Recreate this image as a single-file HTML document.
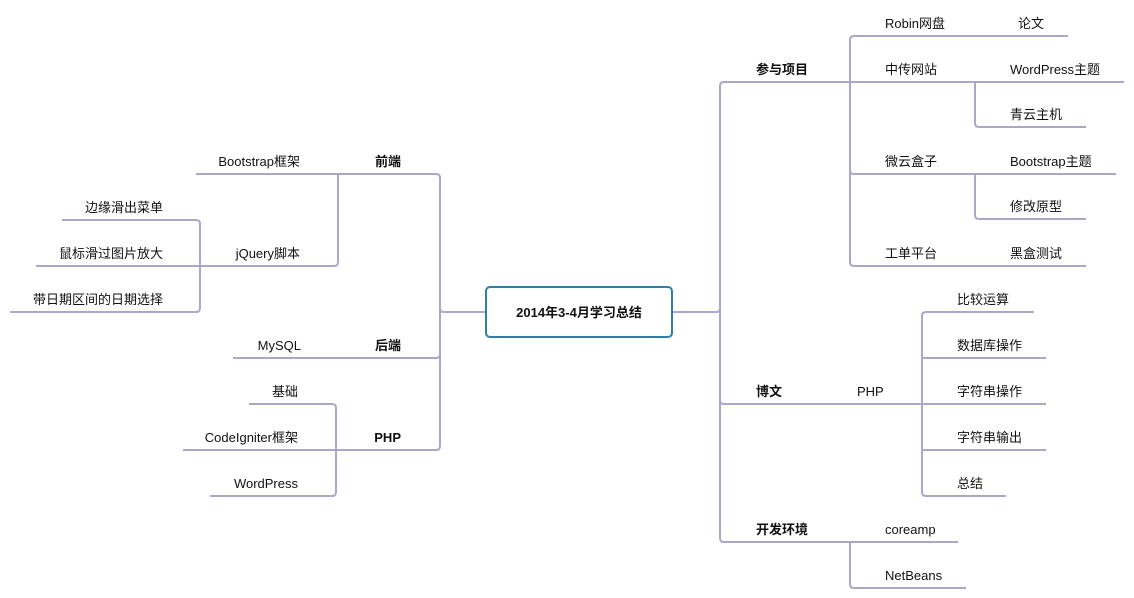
<!DOCTYPE html>
<html><head><meta charset="utf-8"><style>
html,body{margin:0;padding:0;background:#fff;width:1134px;height:598px;overflow:hidden}
text{font-family:"Liberation Sans","Noto Sans CJK SC",sans-serif;font-size:13px;fill:#111}
.b{font-weight:bold}
</style></head><body>
<svg width="1134" height="598" xmlns="http://www.w3.org/2000/svg">
<g fill="none" stroke="#aaa7c9" stroke-width="2" stroke-linejoin="round">
<!-- right -->
<path d="M672 312H716Q720 312 720 308V86Q720 82 724 82H1124"/>
<path d="M720 308V538Q720 542 724 542H958"/>
<path d="M720 400Q720 404 724 404H922"/>
<path d="M850 82V40Q850 36 854 36H1068"/>
<path d="M850 82V262Q850 266 854 266H1086"/>
<path d="M850 170Q850 174 854 174H1116"/>
<path d="M975 82V123Q975 127 979 127H1086"/>
<path d="M975 174V215Q975 219 979 219H1086"/>
<path d="M922 404V316Q922 312 926 312H1034"/>
<path d="M922 404V492Q922 496 926 496H1006"/>
<path d="M922 358H1046M922 404H1046M922 450H1046"/>
<path d="M850 542V584Q850 588 854 588H966"/>
<!-- left -->
<path d="M486 312H444Q440 312 440 308V178Q440 174 436 174H196"/>
<path d="M440 308V446Q440 450 436 450H183"/>
<path d="M440 354Q440 358 436 358H233"/>
<path d="M338 174V262Q338 266 334 266H36"/>
<path d="M200 266V224Q200 220 196 220H62"/>
<path d="M200 266V308Q200 312 196 312H10"/>
<path d="M336 450V408Q336 404 332 404H249"/>
<path d="M336 450V492Q336 496 332 496H210"/>
</g>
<rect x="486" y="287" width="186" height="50" rx="4" fill="#fff" stroke="#2f7fa6" stroke-width="2"/>
<text class="b" x="579" y="317" text-anchor="middle">2014年3-4月学习总结</text>
<g>
<text class="b" x="756" y="74">参与项目</text>
<text class="b" x="756" y="396">博文</text>
<text class="b" x="756" y="534">开发环境</text>
<text x="885" y="28">Robin网盘</text>
<text x="1018" y="28">论文</text>
<text x="885" y="74">中传网站</text>
<text x="1010" y="74">WordPress主题</text>
<text x="1010" y="119">青云主机</text>
<text x="885" y="166">微云盒子</text>
<text x="1010" y="166">Bootstrap主题</text>
<text x="1010" y="211">修改原型</text>
<text x="885" y="258">工单平台</text>
<text x="1010" y="258">黑盒测试</text>
<text x="857" y="396">PHP</text>
<text x="957" y="304">比较运算</text>
<text x="957" y="350">数据库操作</text>
<text x="957" y="396">字符串操作</text>
<text x="957" y="442">字符串输出</text>
<text x="957" y="488">总结</text>
<text x="885" y="534">coreamp</text>
<text x="885" y="580">NetBeans</text>
</g>
<g text-anchor="end">
<text class="b" x="401" y="166">前端</text>
<text class="b" x="401" y="350">后端</text>
<text class="b" x="401" y="442">PHP</text>
<text x="300" y="166">Bootstrap框架</text>
<text x="300" y="258">jQuery脚本</text>
<text x="163" y="212">边缘滑出菜单</text>
<text x="163" y="258">鼠标滑过图片放大</text>
<text x="163" y="304">带日期区间的日期选择</text>
<text x="301" y="350">MySQL</text>
<text x="298" y="396">基础</text>
<text x="298" y="442">CodeIgniter框架</text>
<text x="298" y="488">WordPress</text>
</g>
</svg>
</body></html>
